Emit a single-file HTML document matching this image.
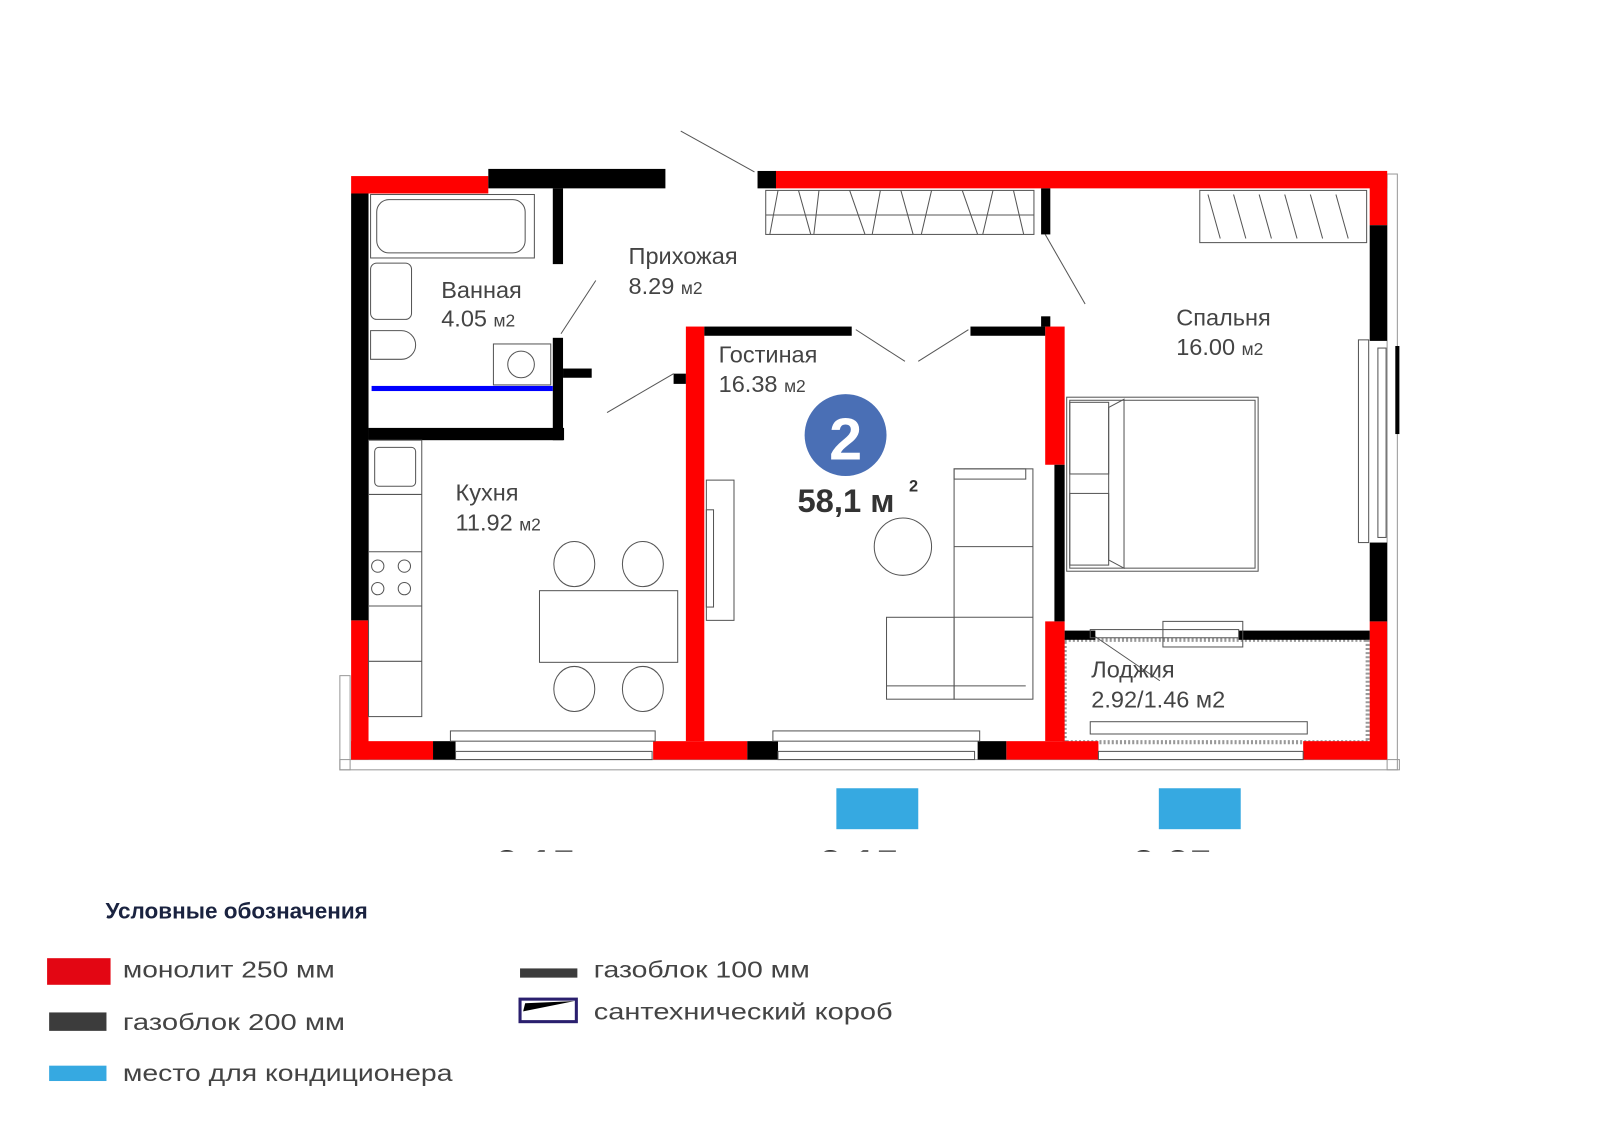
<!DOCTYPE html>
<html><head><meta charset="utf-8"><style>
html,body{margin:0;padding:0;background:#fff;}
svg{display:block;}
text{font-family:"Liberation Sans",sans-serif;}
</style></head><body>
<svg width="1600" height="1131" viewBox="0 0 1600 1131" xmlns="http://www.w3.org/2000/svg">
<defs><clipPath id="cp"><rect x="0" y="0" width="1600" height="832"/></clipPath></defs>
<rect width="1600" height="1131" fill="#fff"/>
<g transform="scale(1.0237)">
<rect x="332" y="660" width="10" height="92" fill="none" stroke="#999" stroke-width="1"/>
<rect x="332" y="742" width="1035" height="10" fill="none" stroke="#999" stroke-width="1"/>
<rect x="1355" y="170" width="10" height="582" fill="none" stroke="#999" stroke-width="1"/>
<rect x="1040" y="625" width="296" height="100" fill="none" stroke="#999" stroke-width="4" stroke-dasharray="2 2"/>

<g fill="#f00">
<rect x="343" y="172" width="134" height="17"/>
<rect x="757" y="167" width="598" height="17"/>
<rect x="1338" y="167" width="17" height="53"/>
<rect x="343" y="606" width="17" height="136"/>
<rect x="343" y="724" width="80" height="18"/>
<rect x="638" y="724" width="92" height="18"/>
<rect x="670" y="319" width="18" height="405"/>
<rect x="983" y="724" width="90" height="18"/>
<rect x="1021" y="319" width="19" height="135"/>
<rect x="1021" y="607" width="19" height="117"/>
<rect x="1273" y="724" width="82" height="18"/>
<rect x="1338" y="607" width="17" height="135"/>
</g>
<g fill="#000">
<rect x="477" y="165" width="173" height="19"/>
<rect x="540" y="184" width="10" height="74"/>
<rect x="740" y="167" width="18" height="17"/>
<rect x="1017" y="184" width="9" height="45"/>
<rect x="343" y="189" width="17" height="417"/>
<rect x="360" y="418" width="191" height="12"/>
<rect x="540" y="330" width="10" height="100"/>
<rect x="550" y="360" width="28" height="9"/>
<rect x="658" y="365" width="12" height="10"/>
<rect x="688" y="319" width="144" height="9"/>
<rect x="948" y="319" width="73" height="9"/>
<rect x="1017" y="309" width="9" height="10"/>
<rect x="1030" y="454" width="10" height="153"/>
<rect x="1338" y="220" width="17" height="113"/>
<rect x="1338" y="530" width="17" height="77"/>
<rect x="1040" y="616" width="30" height="9"/>
<rect x="1210" y="616" width="128" height="9"/>
<rect x="423" y="724" width="22" height="18"/>
<rect x="730" y="724" width="30" height="18"/>
<rect x="955" y="724" width="28" height="18"/>
<rect x="1363" y="338" width="4" height="86"/>
</g>
<rect x="363" y="377" width="177" height="5" fill="#00f"/>

<g fill="none" stroke="#555" stroke-width="1">
<rect x="440" y="714" width="200" height="10"/><rect x="445" y="734" width="192" height="8"/>
<rect x="755" y="714" width="202" height="10"/><rect x="760" y="734" width="192" height="8"/>
<rect x="1065" y="705" width="212" height="12"/><rect x="1073" y="734" width="200" height="8"/>
<rect x="1065" y="615" width="145" height="8"/><rect x="1136" y="607" width="78" height="25"/>
<rect x="1327" y="332" width="10" height="198"/><rect x="1346" y="340" width="8" height="185"/>
<line x1="665" y1="128" x2="737" y2="168"/>
<line x1="548" y1="326" x2="582" y2="274"/>
<line x1="593" y1="403" x2="658" y2="365"/>
<line x1="836" y1="322" x2="884" y2="353"/>
<line x1="897" y1="353" x2="946" y2="322"/>
<line x1="1021" y1="229" x2="1060" y2="297"/>
<line x1="1070" y1="622" x2="1133" y2="665"/>
<rect x="748" y="186" width="262" height="43"/><line x1="748" y1="210" x2="1010" y2="210"/>
<path d="M760 186l-8 43M780 186l12 43M800 186l-5 43M830 186l15 43M860 186l-8 43M880 186l12 43M910 186l-10 43M940 186l15 43M970 186l-10 43M990 186l10 43"/>
<rect x="1172" y="186" width="163" height="51"/>
<path d="M1180 190l12 43M1205 190l12 43M1230 190l12 43M1255 190l12 43M1280 190l12 43M1305 190l12 43"/>
<rect x="362" y="190" width="160" height="62"/><rect x="368" y="195" width="145" height="52" rx="12"/>
<rect x="362" y="257" width="40" height="55" rx="6"/>
<path d="M362 323h30a14 14 0 0 1 0 28h-30z"/>
<rect x="482" y="336" width="56" height="40"/><circle cx="509" cy="356" r="13"/>
<rect x="360" y="430" width="52" height="270"/>
<rect x="366" y="437" width="40" height="38" rx="4"/>
<line x1="360" y1="483" x2="412" y2="483"/><line x1="360" y1="539" x2="412" y2="539"/><line x1="360" y1="592" x2="412" y2="592"/><line x1="360" y1="646" x2="412" y2="646"/>
<circle cx="369" cy="553" r="6"/><circle cx="395" cy="553" r="6"/><circle cx="369" cy="575" r="6"/><circle cx="395" cy="575" r="6"/>
<rect x="527" y="577" width="135" height="70"/>
<ellipse cx="561" cy="551" rx="20" ry="22"/><ellipse cx="628" cy="551" rx="20" ry="22"/>
<ellipse cx="561" cy="673" rx="20" ry="22"/><ellipse cx="628" cy="673" rx="20" ry="22"/>
<rect x="690" y="469" width="27" height="137"/><rect x="690" y="498" width="7" height="95"/>
<circle cx="882" cy="534" r="28"/>
<rect x="932" y="458" width="77" height="225"/><rect x="932" y="458" width="70" height="10"/>
<line x1="932" y1="534" x2="1009" y2="534"/><line x1="932" y1="603" x2="1009" y2="603"/>
<rect x="866" y="603" width="66" height="80"/><line x1="866" y1="670" x2="1002" y2="670"/>
<rect x="1042" y="388" width="187" height="170"/><rect x="1045" y="391" width="181" height="164"/>
<rect x="1045" y="393" width="38" height="70"/><rect x="1045" y="482" width="38" height="70"/>
<path d="M1083 398l15-8v165l-15-8z"/>
</g>

<rect x="817" y="770" width="80" height="40" fill="#36a9e1"/>
<rect x="1132" y="770" width="80" height="40" fill="#36a9e1"/>
<g clip-path="url(#cp)" font-size="40" fill="#333" font-weight="bold">
<text x="484" y="858">2.15</text><text x="800" y="858">2.15</text><text x="1106" y="858">2.25</text>
</g>

<g fill="#444" font-size="23">
<text x="614" y="258">Прихожая</text><text x="614" y="287">8.29 <tspan font-size="17">м2</tspan></text>
<text x="431" y="291">Ванная</text><text x="431" y="319">4.05 <tspan font-size="17">м2</tspan></text>
<text x="702" y="354">Гостиная</text><text x="702" y="383">16.38 <tspan font-size="17">м2</tspan></text>
<text x="445" y="489">Кухня</text><text x="445" y="518">11.92 <tspan font-size="17">м2</tspan></text>
<text x="1149" y="318">Спальня</text><text x="1149" y="347">16.00 <tspan font-size="17">м2</tspan></text>
<text x="1066" y="662">Лоджия</text><text x="1066" y="691">2.92/1.46 м2</text>
</g>
<circle cx="826" cy="425" r="40" fill="#4a6fb5"/>
<text x="826" y="449" font-size="58" font-weight="bold" fill="#fff" text-anchor="middle">2</text>
<text x="779" y="500" font-size="32" font-weight="bold" fill="#333">58,1 м</text>
<text x="888" y="480" font-size="16" font-weight="bold" fill="#333">2</text>

<text x="103" y="897" font-size="22" font-weight="bold" fill="#1a2340">Условные обозначения</text>
<g font-size="23" fill="#444">
<rect x="46" y="936" width="62" height="26" fill="#e30613"/>
<text x="120" y="955" textLength="207" lengthAdjust="spacingAndGlyphs">монолит 250 мм</text>
<rect x="48" y="989" width="56" height="18" fill="#3c3c3c"/>
<text x="120" y="1006" textLength="217" lengthAdjust="spacingAndGlyphs">газоблок 200 мм</text>
<rect x="48" y="1041" width="56" height="15" fill="#36a9e1"/>
<text x="120" y="1056" textLength="322" lengthAdjust="spacingAndGlyphs">место для кондиционера</text>
<rect x="508" y="946" width="56" height="9" fill="#3c3c3c"/>
<text x="580" y="955" textLength="211" lengthAdjust="spacingAndGlyphs">газоблок 100 мм</text>
<rect x="508" y="976" width="55" height="22" fill="none" stroke="#2a1f6e" stroke-width="3"/>
<path d="M511 988l2-8 48-2z" fill="#000"/>
<text x="580" y="996" textLength="292" lengthAdjust="spacingAndGlyphs">сантехнический короб</text>
</g>
</g>
</svg>
</body></html>
